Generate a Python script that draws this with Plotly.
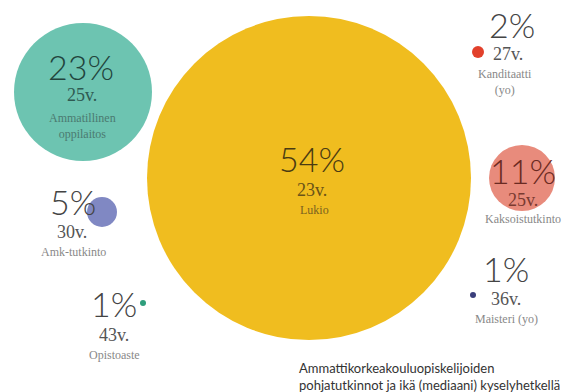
import plotly.graph_objects as go

# ---- data ----
categories = ["Lukio", "Ammatillinen<br>oppilaitos", "Kaksoistutkinto", "Amk-tutkinto",
              "Kanditaatti<br>(yo)", "Opistoaste", "Maisteri (yo)"]
shares = [54, 23, 11, 5, 2, 1, 1]          # percent
median_age = [23, 25, 25, 30, 27, 43, 36]  # years

# ---- layout / style (positions in pixel-like coordinates) ----
circle_x = [309, 83, 522, 102, 478, 143, 473]
circle_y = [178, 92, 178, 212, 52, 303, 295]
colors = ["#F0BD1F", "#6DC4B1", "#E88B7C", "#8088C3", "#E2402B", "#2E9E7C", "#3B3F7C"]
px_per_pct = 6.0

pct_pos = [(312, 158), (81, 66), (523, 170), (73, 201), (512, 24), (114, 303), (506, 268)]
age_pos = [(312, 190), (82, 95), (523, 200), (72, 232), (508, 54), (114, 335), (506, 299)]
lab_pos = [(314, 210), (82, 126), (523, 219), (73, 252), (505, 82), (114, 355), (506, 319)]
pct_col = ["#4A3B12", "#22443D", "#6B2A22", "#444444", "#444444", "#444444", "#444444"]
age_col = ["#6A5317", "#2F5A52", "#7A3A30", "#555555", "#555555", "#555555", "#555555"]
lab_col = ["#7A6220", "#4B7A70", "#888888", "#888888", "#888888", "#888888", "#888888"]

fig = go.Figure()
fig.add_trace(go.Scatter(
    x=circle_x, y=circle_y, mode="markers",
    marker=dict(size=[s * px_per_pct for s in shares], sizemode="diameter",
                color=colors, opacity=1, line=dict(width=0)),
    hoverinfo="skip", showlegend=False))

ann = []
for i, cat in enumerate(categories):
    ann.append(dict(x=pct_pos[i][0], y=pct_pos[i][1], text=f"{shares[i]}%", showarrow=False,
                    font=dict(family="Lato", size=34, color=pct_col[i], weight=300),
                    xanchor="center", yanchor="middle"))
    ann.append(dict(x=age_pos[i][0], y=age_pos[i][1], text=f"{median_age[i]}v.", showarrow=False,
                    font=dict(family="Liberation Serif", size=18, color=age_col[i]),
                    xanchor="center", yanchor="middle"))
    ann.append(dict(x=lab_pos[i][0], y=lab_pos[i][1], text=cat, showarrow=False,
                    font=dict(family="Liberation Serif", size=12, color=lab_col[i]),
                    xanchor="center", yanchor="middle"))

title_lines = ["Ammattikorkeakouluopiskelijoiden",
               "pohjatutkinnot ja ikä (mediaani) kyselyhetkellä"]
ann.append(dict(x=297, y=376, text="<br>".join(title_lines), showarrow=False, align="left",
                font=dict(family="Lato", size=13, color="#333333"),
                xanchor="left", yanchor="middle"))

fig.update_layout(
    width=575, height=392, margin=dict(l=0, r=0, t=0, b=0),
    paper_bgcolor="white", plot_bgcolor="white",
    xaxis=dict(range=[0, 575], visible=False, fixedrange=True),
    yaxis=dict(range=[392, 0], visible=False, fixedrange=True),
    annotations=ann)

fig.write_html("out.html")
